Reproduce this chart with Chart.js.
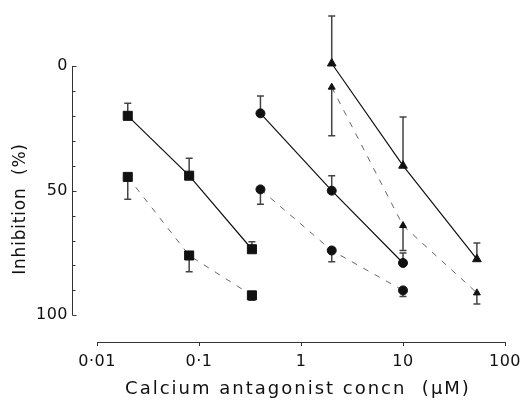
<!DOCTYPE html>
<html>
<head>
<meta charset="utf-8">
<script src="https://cdn.jsdelivr.net/npm/chart.js@4/dist/chart.umd.min.js"></script>
<style>
  html, body { margin: 0; padding: 0; background: #fff; }
  #wrap { width: 527px; height: 400px; position: relative; }
</style>
</head>
<body>
<div id="wrap"><canvas id="chart"></canvas></div>
<script>
// concentrations (uM)
const squareConc = [0.02, 0.08, 0.33]
const circleConc = [0.4, 2, 10]
const triangleConc = [2, 10, 53]

// inhibition (%) and the far end of each error bar
const squareSolid = [20, 44, 73.5]
const squareSolidErr = [15, 37, 70.5]
const squareDashed = [44.5, 76, 92]
const squareDashedErr = [53.5, 82.5, 94]
const circleSolid = [19, 50, 79]
const circleSolidErr = [12, 44, 75]
const circleDashed = [49.5, 74, 90]
const circleDashedErr = [55.5, 78.5, 92.5]
const triangleSolid = [-1, 40, 77.5]
const triangleSolidErr = [-20, 20.5, 71]
const triangleDashed = [8.5, 64, 91]
const triangleDashedErr = [28, 74, 95.5]

const xTicks = [0.01, 0.1, 1, 10, 100]
const xTickLabels = ['0·01', '0·1', '1', '10', '100']
const yTicks = [0, 50, 100]
const yTickLabels = ['0', '50', '100']
const yMinorTicks = [10, 20, 30, 40, 60, 70, 80, 90]

const xTitle = 'Calcium antagonist concn  (\u03bcM)'
const yTitle = 'Inhibition  (%)'

const ink = '#111'
const font = 'DejaVu Sans'

function pts(xs, ys) {
  return xs.map((x, i) => ({x: x, y: ys[i]}))
}

function series(xs, ys, errs, style, dashed, radius) {
  return {
    data: pts(xs, ys),
    errorEnds: errs,
    borderColor: dashed ? '#666' : ink,
    borderWidth: dashed ? 1 : 1.2,
    borderDash: dashed ? [6, 7] : [],
    pointStyle: style,
    pointRadius: radius,
    pointBackgroundColor: ink,
    pointBorderColor: ink,
    pointBorderWidth: 1,
    fill: false,
    tension: 0
  }
}

const errorBars = {
  id: 'errorBars',
  beforeDatasetsDraw(chart) {
    const {ctx, scales: {x, y}} = chart
    ctx.save()
    ctx.strokeStyle = '#444'
    ctx.lineWidth = 1.5
    chart.data.datasets.forEach(ds => {
      ds.data.forEach((p, i) => {
        const px = x.getPixelForValue(p.x)
        const py = y.getPixelForValue(p.y)
        const pe = y.getPixelForValue(ds.errorEnds[i])
        ctx.beginPath()
        ctx.moveTo(px, py)
        ctx.lineTo(px, pe)
        ctx.moveTo(px - 3.5, pe)
        ctx.lineTo(px + 3.5, pe)
        ctx.stroke()
      })
    })
    ctx.restore()
  }
}

const frame = {
  id: 'frame',
  beforeDraw(chart) {
    chart.ctx.letterSpacing = '0.5px'
  },
  afterDraw(chart) {
    const {ctx, scales: {x, y}} = chart
    ctx.save()
    ctx.strokeStyle = '#333'
    ctx.lineWidth = 1
    // y axis, 0 to 100 only
    const ax = Math.round(x.left) + 0.5
    ctx.beginPath()
    ctx.moveTo(ax, y.getPixelForValue(0))
    ctx.lineTo(ax, y.getPixelForValue(100))
    yTicks.forEach(v => {
      const py = Math.round(y.getPixelForValue(v)) + 0.5
      ctx.moveTo(ax, py)
      ctx.lineTo(ax + 4, py)
    })
    yMinorTicks.forEach(v => {
      const py = Math.round(y.getPixelForValue(v)) + 0.5
      ctx.moveTo(ax, py)
      ctx.lineTo(ax + 3, py)
    })
    ctx.stroke()
    // x axis, 0.01 to 100
    const ay = Math.round(y.bottom) + 0.5
    ctx.beginPath()
    ctx.moveTo(x.getPixelForValue(0.01), ay)
    ctx.lineTo(x.getPixelForValue(100), ay)
    ctx.stroke()

    // axis titles
    ctx.fillStyle = ink
    ctx.textAlign = 'center'
    ctx.textBaseline = 'middle'
    ctx.font = '18px "' + font + '"'
    ctx.letterSpacing = '2px'
    ctx.fillText(xTitle, 298, 389)
    ctx.translate(21, 209)
    ctx.rotate(-Math.PI / 2)
    ctx.font = '17px "' + font + '"'
    ctx.letterSpacing = '0.8px'
    ctx.fillText(yTitle, 0, 0)
    ctx.restore()
  }
}

new Chart(document.getElementById('chart'), {
  type: 'line',
  data: {
    datasets: [
      series(squareConc, squareSolid, squareSolidErr, 'rect', false, 6.4),
      series(squareConc, squareDashed, squareDashedErr, 'rect', true, 6.4),
      series(circleConc, circleSolid, circleSolidErr, 'circle', false, 4.5),
      series(circleConc, circleDashed, circleDashedErr, 'circle', true, 4.5),
      series(triangleConc, triangleSolid, triangleSolidErr, 'triangle', false, 5),
      series(triangleConc, triangleDashed, triangleDashedErr, 'triangle', true, 4)
    ]
  },
  options: {
    responsive: true,
    maintainAspectRatio: false,
    animation: false,
    layout: {
      padding: {left: 0, right: 22, top: 9, bottom: 0}
    },
    plugins: {
      legend: {display: false},
      tooltip: {enabled: false}
    },
    scales: {
      x: {
        type: 'logarithmic',
        min: 0.00568,
        max: 100,
        border: {display: false},
        grid: {
          drawOnChartArea: false,
          drawTicks: true,
          tickLength: 4,
          color: '#333'
        },
        afterBuildTicks: scale => {
          scale.ticks = xTicks.map(v => ({value: v}))
        },
        afterFit: scale => { scale.height = 58 },
        ticks: {
          color: ink,
          padding: 6,
          maxRotation: 0,
          autoSkip: false,
          font: {family: font, size: 16},
          callback: (val, index) => xTickLabels[index]
        }
      },
      y: {
        type: 'linear',
        reverse: true,
        min: -21,
        max: 110.7,
        border: {display: false},
        grid: {display: false, drawTicks: false},
        afterBuildTicks: scale => {
          scale.ticks = yTicks.map(v => ({value: v}))
        },
        afterFit: scale => { scale.width = 72 },
        ticks: {
          color: ink,
          padding: 4,
          autoSkip: false,
          font: {family: font, size: 16},
          callback: (val, index) => yTickLabels[index]
        }
      }
    }
  },
  plugins: [errorBars, frame]
})
</script>
</body>
</html>
